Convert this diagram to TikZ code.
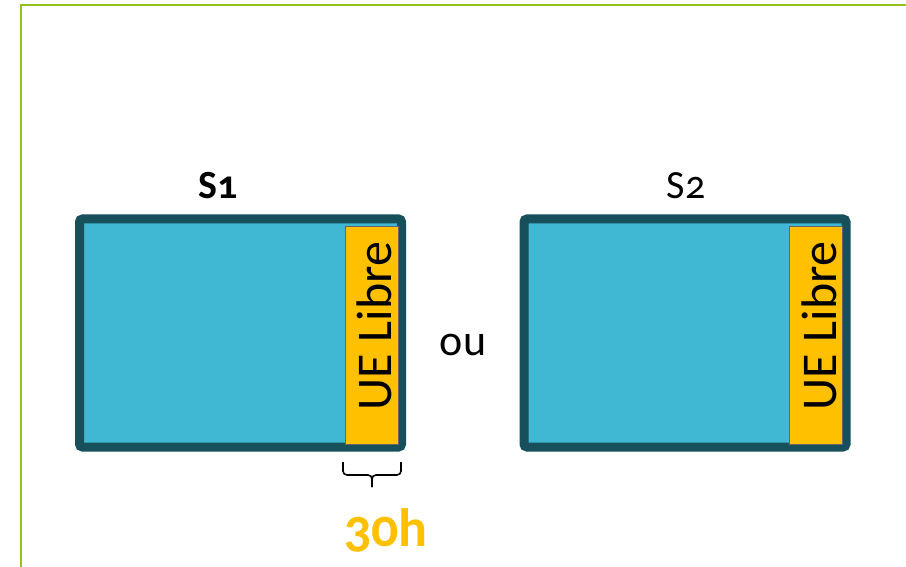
\documentclass[tikz,border=0pt]{standalone}
\usepackage{fontspec}
\setmainfont{Carlito}[Numbers=OldStyle]
\definecolor{framegreen}{RGB}{146,194,32}
\definecolor{semborder}{RGB}{23,79,90}
\definecolor{semfill}{RGB}{64,184,211}
\definecolor{uefill}{RGB}{255,192,0}

\begin{document}
\begin{tikzpicture}[x=1pt,y=-1pt,
    semester/.style={draw=semborder,line width=9pt,fill=semfill,rounded corners=3pt,
        minimum width=322pt,minimum height=228pt,inner sep=0pt},
    uebox/.style={draw=black!60,line width=0.8pt,fill=uefill,
        minimum width=53pt,minimum height=218pt,inner sep=0pt},
    bracket/.style={line width=1.6pt,rounded corners=4pt}]
\useasboundingbox (0,0) rectangle (906,567);
\draw[framegreen,line width=2.6pt] (21,567) -- (21,5) -- (906,5);

\foreach \cx/\lx/\lbl [count=\n] in {240.5/218/\textbf{S1}, 685/686/S2}
{
    \node[semester](S\n) at (\cx,333) {};
    \node[uebox](U\n) at (\cx+131,335) {};
    \node[rotate=90,font=\fontsize{50}{50}\selectfont](T\n) at (\cx+134,326) {UE Libre};
    \node[font=\fontsize{40}{40}\selectfont](L\n) at (\lx,186) {\lbl};
}

\node[font=\fontsize{44}{44}\selectfont](ou) at (463,345) {ou};

% accolade sous l'UE libre
\coordinate (bl) at (343,462);
\coordinate (br) at (401,462);
\coordinate (tip) at (372,487);
\draw[bracket] (bl) |- (372,475) -- (tip);
\draw[bracket] (br) |- (372,475) -- (tip);
\node[font=\fontsize{54}{54}\selectfont\bfseries,text=uefill](hours) at (386,530) {30h};
\end{tikzpicture}
\end{document}
